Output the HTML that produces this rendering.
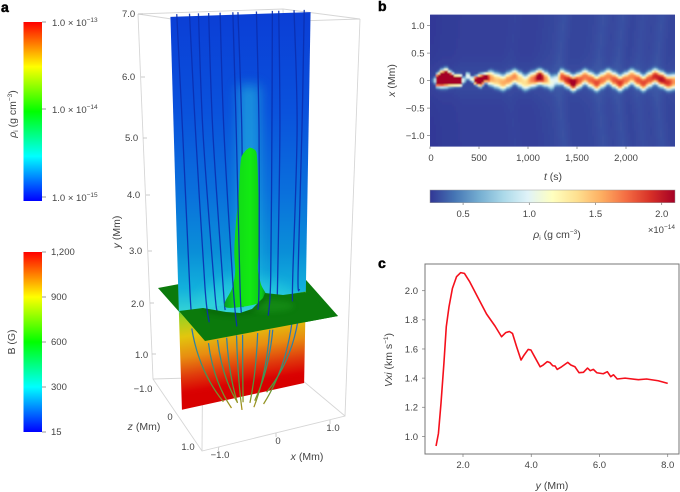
<!DOCTYPE html>
<html lang="en">
<head>
<meta charset="utf-8">
<title>Ion density, magnetic field and velocity figure</title>
<style>
html,body{margin:0;padding:0;background:#fff;}
svg{display:block;}
text{font-family:"Liberation Sans",sans-serif;fill:#444;font-size:9.5px;}
.panel{font-size:14px;font-weight:bold;fill:#000;stroke:#000;stroke-width:.5px;}
.lab{font-size:10.5px;}
.mid{text-anchor:middle;}
.end{text-anchor:end;}
.it{font-style:italic;}
.sup{font-size:6.5px;}
.box{stroke:#d6d6d6;stroke-width:.9;fill:none;}
.tick{stroke:#777;stroke-width:.7;fill:none;}
</style>
</head>
<body>
<svg id="fig" xmlns="http://www.w3.org/2000/svg" width="680" height="492" viewBox="0 0 680 492">
<defs>
<linearGradient id="rainbow" x1="0" y1="0" x2="0" y2="1">
<stop offset="0" stop-color="#ff0000"/><stop offset=".25" stop-color="#ffff00"/><stop offset=".5" stop-color="#00ff00"/><stop offset=".75" stop-color="#00ffff"/><stop offset="1" stop-color="#0000ff"/>
</linearGradient>
<linearGradient id="sheetUp" gradientUnits="userSpaceOnUse" x1="0" y1="14" x2="0" y2="312">
<stop offset="0" stop-color="#0b3ed6"/><stop offset=".33" stop-color="#0a52dc"/><stop offset=".6" stop-color="#0a70dc"/><stop offset=".8" stop-color="#0a8fd8"/><stop offset=".92" stop-color="#12b0dc"/><stop offset="1" stop-color="#34d4d6"/>
</linearGradient>
<linearGradient id="sheetLow" gradientUnits="userSpaceOnUse" x1="243" y1="293" x2="258" y2="385">
<stop offset="0" stop-color="#38c858"/><stop offset=".16" stop-color="#a0d020"/><stop offset=".36" stop-color="#e2c60e"/><stop offset=".58" stop-color="#e88c10"/><stop offset=".78" stop-color="#e03c0c"/><stop offset=".95" stop-color="#da0202"/><stop offset="1" stop-color="#d80000"/>
</linearGradient>
<linearGradient id="lineLow" gradientUnits="userSpaceOnUse" x1="0" y1="322" x2="0" y2="408">
<stop offset="0" stop-color="#2a66c4"/><stop offset=".35" stop-color="#2f8c98"/><stop offset=".7" stop-color="#489a40"/><stop offset="1" stop-color="#a89018"/>
</linearGradient>
<linearGradient id="plumeFill" x1="0" y1="0" x2="1" y2="0">
<stop offset="0" stop-color="#079a2a"/><stop offset=".25" stop-color="#10d818"/><stop offset=".6" stop-color="#12ea12"/><stop offset=".88" stop-color="#0cc818"/><stop offset="1" stop-color="#068a28"/>
</linearGradient>
<linearGradient id="cbarB" x1="0" y1="0" x2="1" y2="0">
<stop offset="0" stop-color="#313695"/><stop offset=".1" stop-color="#4575b4"/><stop offset=".2" stop-color="#74add1"/><stop offset=".3" stop-color="#abd9e9"/><stop offset=".4" stop-color="#e0f3f8"/><stop offset=".5" stop-color="#ffffbf"/><stop offset=".6" stop-color="#fee090"/><stop offset=".7" stop-color="#fdae61"/><stop offset=".8" stop-color="#f46d43"/><stop offset=".9" stop-color="#d73027"/><stop offset="1" stop-color="#a50026"/>
</linearGradient>
<filter id="blur6" x="-100%" y="-50%" width="300%" height="200%"><feGaussianBlur stdDeviation="6"/></filter>
<filter id="blur3" x="-50%" y="-50%" width="200%" height="200%"><feGaussianBlur stdDeviation="3"/></filter>
<filter id="blurHeat" x="-2%" y="-2%" width="104%" height="104%"><feGaussianBlur stdDeviation="0.8"/></filter>
<clipPath id="upClip"><polygon points="170.5,17 310.5,12 305,293 179,312"/></clipPath>
<clipPath id="planeClip"><polygon points="179,311 205,341 338,316 305,292 283,295 265,293 263,298 252,309 240,313 226,312 203,308"/></clipPath>
<clipPath id="heatClip"><rect x="430" y="14.6" width="245" height="132"/></clipPath>
</defs>

<text class="panel" x="1" y="12">a</text>
<text class="panel" x="378" y="11">b</text>
<text class="panel" x="378" y="268">c</text>

<!-- colourbars -->
<g>
<rect x="23.5" y="22" width="18.5" height="179" fill="url(#rainbow)"/>
<path class="tick" d="M42 22h4M42 109h4M42 197h4"/>
<text x="52" y="26">1.0 × 10<tspan class="sup" dy="-4">−13</tspan></text>
<text x="52" y="113">1.0 × 10<tspan class="sup" dy="-4">−14</tspan></text>
<text x="52" y="201">1.0 × 10<tspan class="sup" dy="-4">−15</tspan></text>
<text class="lab mid" transform="translate(16,114) rotate(-90)"><tspan class="it">ρ</tspan><tspan class="sup" dy="2">i</tspan><tspan dy="-2"> (g cm</tspan><tspan class="sup" dy="-4">−3</tspan><tspan dy="4">)</tspan></text>
</g>
<g>
<rect x="23.5" y="252" width="18.5" height="180" fill="url(#rainbow)"/>
<path class="tick" d="M42 252h4M42 297h4M42 342h4M42 387h4M42 432h4"/>
<text x="51" y="255">1,200</text>
<text x="51" y="300">900</text>
<text x="51" y="345">600</text>
<text x="51" y="390">300</text>
<text x="51" y="435">15</text>
<text class="lab mid" transform="translate(15,342) rotate(-90)">B (G)</text>
</g>

<!-- 3D scene -->
<g id="scene">
<path class="box" d="M138 14L283 9L360 19L205 24L138 14M138 14L153 379L202 451L345 416L360 19M205 24L202 451M153 379L296 375L345 416M283 9L296 375"/>
<path class="tick" style="stroke:#bbb" d="M138 14h5M141 77h4M143 138h4M146 195h4M148 251h4M150 303h4M152 354h4M218 451l1-4M276 437l0-4M330 424l0-4"/>
<polygon points="158,288 291,263 338,316 205,341" fill="#0b7a0c"/>
<polygon id="sheetLowPoly" fill="url(#sheetLow)"/>
<g id="lowerLines"></g>
<polygon id="sheetUpPoly" fill="url(#sheetUp)"/>
<polygon points="179,311 305,292 265,297 252,310 240,314 226,314 203,310" fill="url(#sheetUp)"/>
<g clip-path="url(#upClip)">
<rect x="238" y="85" width="22" height="220" fill="#25c4e0" opacity=".55" filter="url(#blur6)"/>
<ellipse cx="248" cy="300" rx="48" ry="22" fill="#35dce0" opacity=".45" filter="url(#blur6)"/>
</g>
<g id="backLines"></g>
<path id="plume" fill="url(#plumeFill)"/>
<polygon points="179,311 205,341 338,316 305,292 283,295 265,293 263,298 252,309 240,313 226,312 203,308" fill="#0b7a0c"/>
<g clip-path="url(#planeClip)">
<ellipse cx="270" cy="306" rx="24" ry="6" fill="#22a022" opacity=".4" filter="url(#blur3)"/>
<path d="M205 309Q232 317 252 310Q260 305 264 297" stroke="#054a08" stroke-width="2.5" fill="none" opacity=".7" filter="url(#blur3)"/>
</g>
<g id="frontLines"></g>

<text x="122" y="17">7.0</text>
<text x="122" y="80">6.0</text>
<text x="125" y="141">5.0</text>
<text x="127" y="198">4.0</text>
<text x="129" y="254">3.0</text>
<text x="131" y="307">2.0</text>
<text x="135" y="358">1.0</text>
<text class="lab mid" transform="translate(120,232) rotate(-90)"><tspan class="it">y</tspan> (Mm)</text>
<text class="mid" x="143" y="392">−1.0</text>
<text class="mid" x="170" y="420">0</text>
<text class="mid" x="188" y="450">1.0</text>
<text class="lab mid" x="144" y="430"><tspan class="it">z</tspan> (Mm)</text>
<text class="mid" x="220" y="458">−1.0</text>
<text class="mid" x="278" y="444">0</text>
<text class="mid" x="333" y="431">1.0</text>
<text class="lab mid" x="307" y="460"><tspan class="it">x</tspan> (Mm)</text>
</g>

<!-- panel b -->
<g clip-path="url(#heatClip)">
<rect x="430" y="14.6" width="245" height="132" fill="#313b98"/>
<g id="heat" filter="url(#blurHeat)" shape-rendering="crispEdges"></g>
</g>
<g id="bAxes"></g>
<text class="lab mid" x="553" y="180"><tspan class="it">t</tspan> (s)</text>
<text class="lab mid" transform="translate(395,80.5) rotate(-90)"><tspan class="it">x</tspan> (Mm)</text>
<rect x="430" y="190" width="245" height="12.7" fill="url(#cbarB)" stroke="#999" stroke-width=".5"/>
<g id="bCbar"></g>
<text class="lab mid" x="557" y="238"><tspan class="it">ρ</tspan><tspan class="sup" dy="2">i</tspan><tspan dy="-2"> (g cm</tspan><tspan class="sup" dy="-4">−3</tspan><tspan dy="4">)</tspan></text>
<text class="end" x="675" y="233">×10<tspan class="sup" dy="-4">−14</tspan></text>

<!-- panel c -->
<rect x="425" y="264" width="254" height="190" fill="#fff" stroke="#777" stroke-width="1"/>
<g id="cAxes"></g>
<path id="vLine" fill="none" stroke="#f5101c" stroke-width="1.6" stroke-linejoin="round"/>
<text class="lab mid" x="552" y="489"><tspan class="it">y</tspan> (Mm)</text>
<text class="lab mid" transform="translate(392,360) rotate(-90)"><tspan class="it">Vxi</tspan> (km s<tspan class="sup" dy="-4">−1</tspan><tspan dy="4">)</tspan></text>
</svg>

<script>
// ---- panel c data ----
var velocityY = [1.21,1.28,1.355,1.44,1.51,1.59,1.69,1.81,1.93,2.04,2.2,2.45,2.69,2.94,3.13,3.25,3.36,3.45,3.57,3.7,3.79,3.91,3.99,4.11,4.26,4.35,4.47,4.55,4.63,4.7,4.76,4.89,5.07,5.16,5.28,5.4,5.53,5.65,5.73,5.82,5.92,6.11,6.23,6.33,6.41,6.52,6.75,7.14,7.38,7.72,8.0];
var velocityV = [0.934,1.02,1.227,1.5,1.753,1.89,2.016,2.096,2.124,2.119,2.06,1.947,1.84,1.757,1.684,1.712,1.72,1.707,1.616,1.524,1.558,1.597,1.593,1.542,1.478,1.49,1.513,1.506,1.485,1.483,1.46,1.478,1.508,1.49,1.478,1.437,1.44,1.469,1.451,1.46,1.437,1.43,1.444,1.41,1.423,1.394,1.4,1.389,1.394,1.382,1.364];
var velocityXTicks = [2,4,6,8];
var velocityYTicks = [1.0,1.2,1.4,1.6,1.8,2.0];

// ---- panel b data ----
var ridgeTime = [0,45,70,120,165,210,260,310,345,385,430,470,515,570,620,680,748,800,867,915,969,1050,1122,1190,1241,1290,1343,1400,1462,1520,1582,1640,1701,1760,1820,1880,1939,2000,2058,2120,2177,2240,2296,2360,2432,2500];
var ridgeCenter = [0,0,0.0,0.03,0.047,0.025,0.0,0.0,0,0.09,0.02,0.0,0.0,0.05,0.04,0.0,-0.04,0.01,0.07,0.02,-0.04,0.02,0.065,0.02,-0.04,0.01,0.065,0.01,-0.05,0.0,0.065,0.01,-0.05,0.01,0.07,0.01,-0.05,0.01,0.07,0.01,-0.05,0.02,0.075,0.02,-0.04,-0.02];
var ridgeHalfWidth = [0.03,0.05,0.1,0.13,0.14,0.11,0.085,0.085,0.05,0.06,0.04,0.07,0.1,0.075,0.12,0.125,0.125,0.125,0.115,0.125,0.125,0.125,0.12,0.12,0.12,0.09,0.12,0.125,0.125,0.125,0.12,0.125,0.125,0.125,0.12,0.125,0.125,0.125,0.12,0.125,0.125,0.125,0.12,0.125,0.125,0.125];
var ridgePeak = [0.3,0.5,3.2,3.6,3.6,3.5,3.4,3.2,0.7,1.05,1.0,2.8,3.0,2.6,1.6,1.45,1.55,1.6,1.65,1.4,1.35,1.7,2.3,1.55,1.05,1.0,1.8,1.95,2.3,1.8,1.7,1.75,1.85,1.7,1.65,1.8,1.9,1.7,1.65,1.8,1.85,1.8,1.95,2.05,1.9,1.6];
var backgroundDensity = [0.26,0.27,0.27,0.28,0.28,0.28,0.28,0.28,0.29,0.28,0.28,0.29,0.3,0.33,0.29,0.29,0.3,0.33,0.3,0.33,0.29,0.32,0.3,0.33,0.29,0.3];
var heatXTicks = [0,500,1000,1500,2000];
var heatXTickLabels = ["0","500","1,000","1,500","2,000"];
var heatYTicks = [1,0.5,0,-0.5,-1];
var heatYTickLabels = ["1.0","0.5","0","−0.5","−1.0"];
var densityTicks = [0.5,1.0,1.5,2.0];
var densityTickLabels = ["0.5","1.0","1.5","2.0"];
var paletteColors = [[49,54,149],[69,117,180],[116,173,209],[171,217,233],[224,243,248],[255,255,191],[254,224,144],[253,174,97],[244,109,67],[215,48,39],[165,0,38]];

// ---- panel a data (Mm) ----
var heightAxis = [0,1,2,3,4,5,6,7];
var heightAxisScreen = [407,354,302,251,195,138,77,14.5];
var sheetHalfWidth = 1.1;
var upperTopX = [-1.0,-0.8,-0.66,-0.5,-0.32,-0.12,-0.04,0.25,0.5,0.6,0.84,1.0];
var upperMidX = [-0.95,-0.74,-0.62,-0.46,-0.28,-0.08,0.01,0.29,0.50,0.63,0.91,0.99];
var upperLowX = [-0.90,-0.64,-0.48,-0.33,-0.16,-0.04,0.01,0.29,0.49,0.61,0.87,0.96];
var upperEndX = [-0.88,-0.58,-0.44,-0.30,-0.10,-0.02,0.01,0.27,0.45,0.60,0.87,0.99];
var upperEndH = [1.9,1.72,1.9,1.9,1.55,1.8,1.9,1.8,1.65,1.9,1.85,2.05];
var upperInFront = [0,1,0,0,1,1,0,1,1,0,1,1];
var lowerStartX = [-0.885,-0.6,-0.44,-0.28,-0.106,0,0.265,0.478,0.53,0.867,0.973];
var lowerStartH = [1.66,1.33,1.36,1.37,1.38,1.37,1.35,1.37,1.36,1.44,1.46];
var lowerFootX = [-0.354,-0.21,-0.106,-0.1,-0.02,0,0.124,0.195,0.21,0.37,0.425];
var lowerFootH = [0.18,0.03,0.12,0.1,-0.05,0.09,0.05,-0.05,0.07,-0.03,0.18];
var plumeHeights = [4.76,4.6,4.0,3.5,3.0,2.6,2.3,1.95];
var plumeLeftX = [0.06,-0.01,-0.05,-0.10,-0.13,-0.12,-0.175,-0.285];
var plumeRightX = [0.23,0.26,0.28,0.28,0.285,0.27,0.32,0.39];
var plumeApexX = 0.14;
var plumeApexH = 4.82;

var NS = "http://www.w3.org/2000/svg";
function add(parent, tag, attrs, txt){
  var e = document.createElementNS(NS, tag);
  for (var k in attrs) e.setAttribute(k, attrs[k]);
  if (txt !== undefined) e.textContent = txt;
  parent.appendChild(e);
  return e;
}
function $(id){ return document.getElementById(id); }

// ---- panel c axes ----
function vx(y){ return 463 + (y - 2) * 34.12; }
function vy(v){ return 290.7 + (2 - v) * 145.7; }
velocityXTicks.forEach(function(t){
  var l = add($("cAxes"), "line", {x1:vx(t), x2:vx(t), y1:454, y2:457, "class":"tick"});
  
  
  var s = add($("cAxes"), "text", {x:vx(t), y:468, "class":"mid"}, t.toFixed(1));
  
  
});
velocityYTicks.forEach(function(t){
  var l = add($("cAxes"), "line", {x1:422, x2:425, y1:vy(t), y2:vy(t), "class":"tick"});
  
  
  var s = add($("cAxes"), "text", {x:418, y:vy(t)+3.4, "class":"end"}, t.toFixed(1));
  
  
});
$("vLine").setAttribute("d", velocityY.map(function(y,i){
  return (i ? "L" : "M") + vx(y).toFixed(2) + " " + vy(velocityV[i]).toFixed(2);
}).join(""));

// ---- panel b ----
function hx(t){ return 430 + t * 0.098; }
function hy(x){ return 80.6 - x * 55; }
function cx(d){ return 430 + (d - 0.25) * 132.4; }
function palette(v){
  var p = (v - 0.25) / 1.85 * 10;
  p = Math.max(0, Math.min(9.999, p));
  var i = Math.floor(p), f = p - i, a = paletteColors[i], b = paletteColors[i+1];
  return "rgb(" + Math.round(a[0]+(b[0]-a[0])*f) + "," + Math.round(a[1]+(b[1]-a[1])*f) + "," + Math.round(a[2]+(b[2]-a[2])*f) + ")";
}
function interp(arr, t){
  var i = 0;
  while (i < ridgeTime.length - 2 && ridgeTime[i+1] < t) i++;
  var f = (t - ridgeTime[i]) / (ridgeTime[i+1] - ridgeTime[i]);
  f = Math.max(0, Math.min(1, f));
  f = (1 - Math.cos(f * Math.PI)) / 2;
  return arr[i] + (arr[i+1] - arr[i]) * f;
}
function background(t, x){
  var p = Math.max(0, Math.min(2500, t)) / 100, i = Math.min(24, Math.floor(p)), f = p - i;
  var base = backgroundDensity[i] + (backgroundDensity[i+1] - backgroundDensity[i]) * f;
  var d = Math.abs(x);
  return base + 0.03 * Math.exp(-d * d / 0.09);
}
var step = 2;
for (var px = 0; px < 245; px += step) {
  var tc = (px + step / 2) / 0.098;
  var c = interp(ridgeCenter, tc), w = interp(ridgeHalfWidth, tc), pk = interp(ridgePeak, tc);
  for (var py = 14.6; py < 146.6; py += step) {
    var xm = (80.6 - (py + step / 2)) / 55;
    var bgv = background(tc - 60 * Math.abs(xm), xm);
    var dist = Math.abs(xm - c) / w;
    var val = bgv + (pk - bgv) * Math.exp(-Math.pow(dist, 3));
    var cell = add($("heat"), "rect", {x:430+px, y:py, width:step+0.3, height:step+0.3, fill:palette(val)});
    
    
  }
}
heatXTicks.forEach(function(t,i){
  var l = add($("bAxes"), "line", {x1:hx(t), x2:hx(t), y1:146.6, y2:149, "class":"tick"});
  
  
  var s = add($("bAxes"), "text", {x:hx(t)+(t===0?1:0), y:161, "class":"mid"}, heatXTickLabels[i]);
  
  
});
heatYTicks.forEach(function(t,i){
  var l = add($("bAxes"), "line", {x1:427, x2:430, y1:hy(t), y2:hy(t), "class":"tick"});
  
  
  var s = add($("bAxes"), "text", {x:424.5, y:hy(t)+3.4, "class":"end"}, heatYTickLabels[i]);
  
  
});
densityTicks.forEach(function(t,i){
  var l = add($("bCbar"), "line", {x1:cx(t), x2:cx(t), y1:202.7, y2:205, "class":"tick"});
  
  
  var s = add($("bCbar"), "text", {x:cx(t), y:217, "class":"mid"}, densityTickLabels[i]);
  
  
});

// ---- panel a projection ----
function heightY(h){
  if (h <= 0) return 407 - h * 53;
  var i = Math.min(heightAxis.length - 2, Math.floor(h));
  return heightAxisScreen[i] + (heightAxisScreen[i+1] - heightAxisScreen[i]) * (h - heightAxis[i]);
}
function projX(x, h){ return (243.1 - 0.37 * h) + x * (55.3 + 1.2 * h); }
function projY(x, h){ return heightY(h) - x * (2.2 + (7 - h) * 1.46); }
function pt(x, h){ return projX(x, h).toFixed(2) + "," + projY(x, h).toFixed(2); }
function spline(pts, closed){
  var n = pts.length, d = "M" + pts[0][0].toFixed(2) + " " + pts[0][1].toFixed(2);
  for (var i = 0; i < n - 1; i++) {
    var p0 = pts[Math.max(0,i-1)], p1 = pts[i], p2 = pts[i+1], p3 = pts[Math.min(n-1,i+2)];
    d += "C" + (p1[0]+(p2[0]-p0[0])/6).toFixed(2) + " " + (p1[1]+(p2[1]-p0[1])/6).toFixed(2) + " " +
         (p2[0]-(p3[0]-p1[0])/6).toFixed(2) + " " + (p2[1]-(p3[1]-p1[1])/6).toFixed(2) + " " +
         p2[0].toFixed(2) + " " + p2[1].toFixed(2);
  }
  return d + (closed ? "Z" : "");
}
var W = sheetHalfWidth;
$("sheetUpPoly").setAttribute("points", [pt(-W,7),pt(W,7),pt(W,2),pt(-W,2)].join(" "));
$("sheetLowPoly").setAttribute("points", [pt(-W,2),pt(W,2),pt(W,0.2),pt(-W,0.2)].join(" "));

lowerStartX.forEach(function(sx,i){
  var x0 = projX(sx, lowerStartH[i]), y0 = projY(sx, lowerStartH[i]);
  var x1 = projX(lowerFootX[i], lowerFootH[i]), y1 = projY(lowerFootX[i], lowerFootH[i]);
  var p = add($("lowerLines"), "path", {d:"M"+x0.toFixed(2)+" "+y0.toFixed(2)+"Q"+(x0+(x1-x0)*0.22).toFixed(2)+" "+((y0+y1)/2+6).toFixed(2)+" "+x1.toFixed(2)+" "+y1.toFixed(2), fill:"none", stroke:"url(#lineLow)", "stroke-width":1.25});
  
  
});
upperTopX.forEach(function(tx,i){
  var pts = [[projX(tx,7.04),projY(tx,7.04)],[projX(upperMidX[i],5.1),projY(upperMidX[i],5.1)],[projX(upperLowX[i],2.4),projY(upperLowX[i],2.4)],[projX(upperEndX[i],upperEndH[i]),projY(upperEndX[i],upperEndH[i])]];
  var p = add($(upperInFront[i] ? "frontLines" : "backLines"), "path", {d:spline(pts,false), fill:"none", stroke:"#0a2fb0", "stroke-width":1.3, "stroke-opacity":0.9});
  
  
});
var outline = [[projX(plumeApexX,plumeApexH),projY(plumeApexX,plumeApexH)]];
plumeRightX.forEach(function(x,i){ outline.push([projX(x,plumeHeights[i]),projY(x,plumeHeights[i])]); });
for (var k = plumeLeftX.length - 1; k >= 0; k--) outline.push([projX(plumeLeftX[k],plumeHeights[k]),projY(plumeLeftX[k],plumeHeights[k])]);
outline.push(outline[0]);
$("plume").setAttribute("d", spline(outline,true));
</script>
</body>
</html>
